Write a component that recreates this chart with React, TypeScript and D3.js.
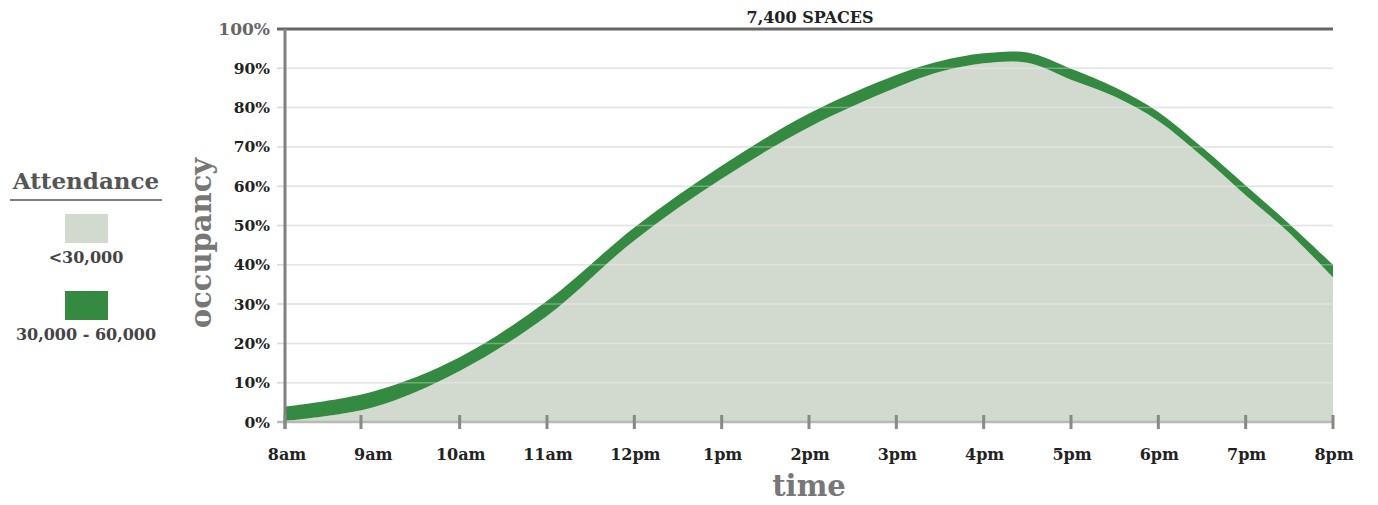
import React from "react";
import * as d3 from "d3";

// ---- data ----
const hours = [8, 9, 10, 11, 12, 13, 14, 15, 15.5, 16, 16.5, 17, 17.5, 18, 18.5, 19, 19.5, 20];
const upperPct = [3.9, 7.7, 16.5, 30.8, 49.5, 65.2, 78.5, 88.3, 91.8, 93.8, 94.0, 89.9, 85.2, 78.9, 69.9, 60.2, 50.4, 40];
const lowerPct = [0.3, 3.7, 13, 27, 46.2, 61.9, 75, 85.1, 89.1, 91.3, 91.4, 87.1, 82.8, 76.6, 67.6, 57.7, 48.1, 36.8];

const labelHours = [8, 9, 10, 11, 12, 13, 14, 15, 16, 17, 18, 19, 20];
const xLabels = ["8am", "9am", "10am", "11am", "12pm", "1pm", "2pm", "3pm", "4pm", "5pm", "6pm", "7pm", "8pm"];
const tickHours = [8, 8.87, 10, 11, 12, 13, 14, 15, 16, 17, 18, 19, 20];
const yTicks = [0, 10, 20, 30, 40, 50, 60, 70, 80, 90, 100];

const legendTitle = "Attendance";
const legendLabels = ["<30,000", "30,000 - 60,000"];
const title = "7,400 SPACES";

const FONT = "'DejaVu Serif', serif";
const FILL = "#d2d9cf";
const GREEN = "#338a40";

export default function App() {
  const W = 1378, H = 505;
  const x = d3.scaleLinear().domain([8, 20]).range([285, 1333]);
  const y = d3.scaleLinear().domain([0, 100]).range([422, 29]);
  const pts = hours.map((h, i) => ({ h, u: upperPct[i], l: lowerPct[i] }));
  const curve = d3.curveCatmullRom.alpha(0.5);

  const baseArea = d3.area<any>().x(d => x(d.h)).y0(y(0)).y1(d => y(d.l)).curve(curve);
  const band = d3.area<any>().x(d => x(d.h)).y0(d => y(d.l)).y1(d => y(d.u)).curve(curve);

  return (
    <svg width={W} height={H} style={{ position: "absolute", left: 0, top: 0, background: "#fff" }} fontFamily={FONT}>
      {/* grid under */}
      {yTicks.filter(t => t > 0 && t < 100).map(t => (
        <line key={"g" + t} x1={277} x2={x(20)} y1={y(t)} y2={y(t)} stroke="#d8d8d8" strokeWidth={1.5} />
      ))}
      <path d={baseArea(pts) || ""} fill={FILL} />
      <path d={band(pts) || ""} fill={GREEN} />
      {/* grid over */}
      {yTicks.filter(t => t > 0 && t < 100).map(t => (
        <line key={"go" + t} x1={x(8)} x2={x(20)} y1={y(t)} y2={y(t)} stroke="#ffffff" strokeOpacity={0.3} strokeWidth={1.5} />
      ))}
      {/* x baseline */}
      <line x1={277} x2={x(20)} y1={y(0)} y2={y(0)} stroke="#b9b9b9" strokeWidth={2.5} />
      {/* top line */}
      <line x1={277} x2={x(20)} y1={y(100)} y2={y(100)} stroke="#666" strokeWidth={3} />
      {/* y axis */}
      <line x1={x(8)} x2={x(8)} y1={y(100)} y2={429} stroke="#808080" strokeWidth={3} />
      {/* x ticks */}
      {tickHours.map((h, i) => (
        <line key={"t" + i} x1={x(h)} x2={x(h)} y1={415} y2={429} stroke="#888" strokeWidth={3} />
      ))}
      {/* y labels */}
      {yTicks.map(t => (
        <text key={"yl" + t} x={270} y={y(t)} dy="0.36em" textAnchor="end"
          fontSize={t === 100 ? 17 : 15.5} fontWeight="bold" fill={t === 100 ? "#666" : "#222"}>
          {t + "%"}
        </text>
      ))}
      {/* x labels */}
      {labelHours.map((h, i) => (
        <text key={"xl" + i} x={x(h) + (i === 0 ? 2 : 1)} y={460} textAnchor="middle" fontSize={16} fontWeight="bold" fill="#222">
          {xLabels[i]}
        </text>
      ))}
      {/* title */}
      <text x={(x(8) + x(20)) / 2 + 1} y={23} textAnchor="middle" fontSize={16} fontWeight="bold" fill="#222">{title}</text>
      {/* axis titles */}
      <text x={(x(8) + x(20)) / 2} y={496} textAnchor="middle" fontSize={29} fontWeight="bold" fill="#777">time</text>
      <text transform={`translate(211,243) rotate(-90)`} textAnchor="middle" fontSize={29} fontWeight="bold" fill="#777">occupancy</text>
      {/* legend */}
      <text x={86} y={189} textAnchor="middle" fontSize={23} fontWeight="bold" fill="#555">{legendTitle}</text>
      <line x1={10} x2={162} y1={200} y2={200} stroke="#555" strokeWidth={1.5} />
      <rect x={65} y={214} width={43} height={29} fill={FILL} />
      <text x={86} y={263} textAnchor="middle" fontSize={16} fontWeight="bold" fill="#444">{legendLabels[0]}</text>
      <rect x={65} y={291} width={43} height={29} fill={GREEN} />
      <text x={86} y={340} textAnchor="middle" fontSize={16} fontWeight="bold" fill="#444">{legendLabels[1]}</text>
    </svg>
  );
}
